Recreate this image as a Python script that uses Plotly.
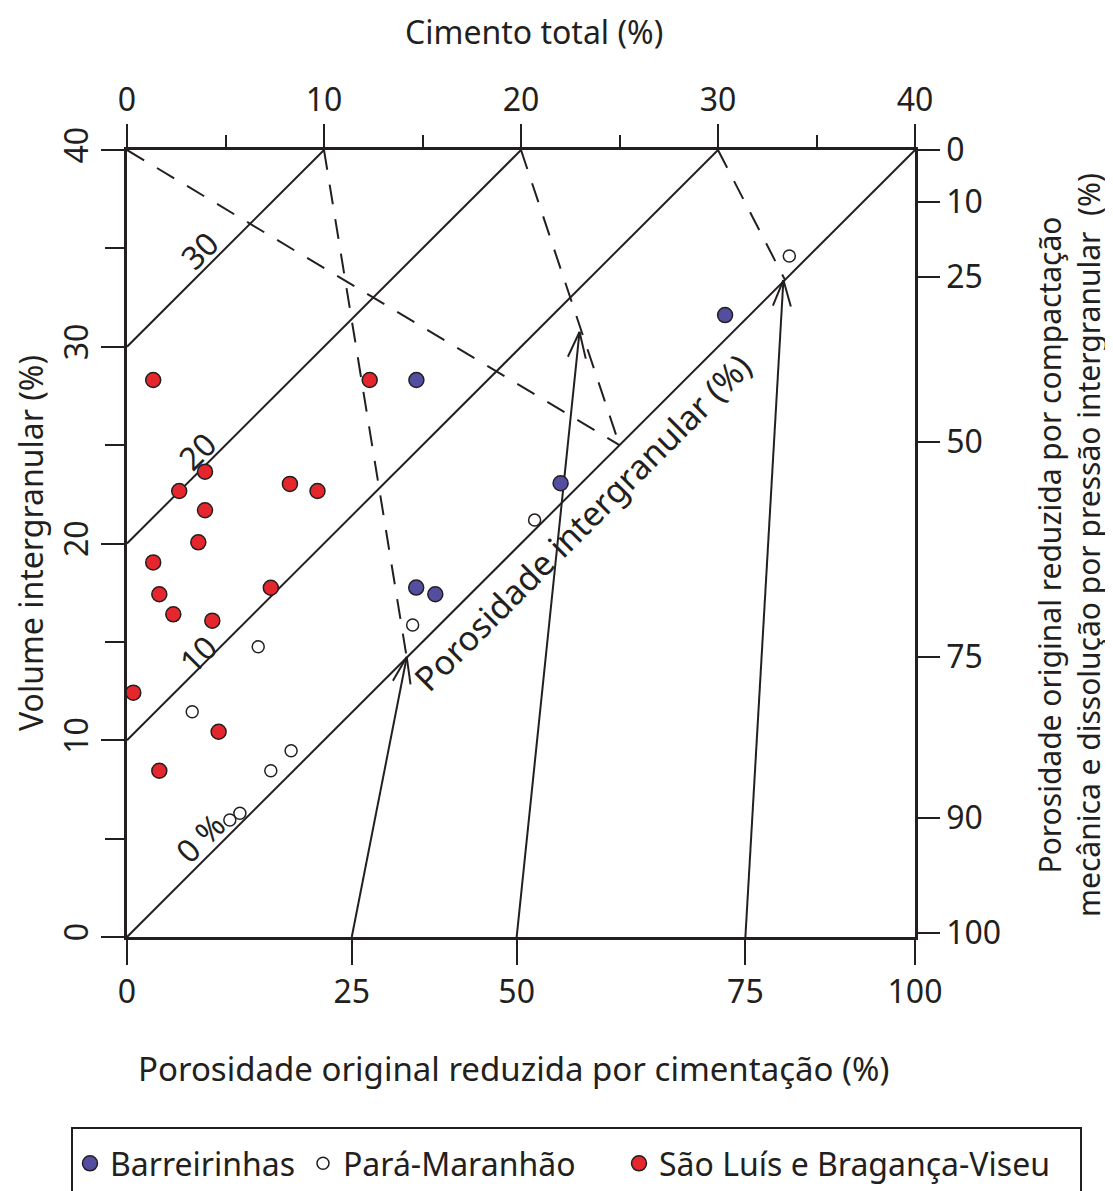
import math
import plotly.graph_objects as go

FONT = "Noto Sans"
INK = "#231f20"
BLUE = "#544ea0"
RED = "#e6262d"

# ---------------- data (cement %, intergranular volume %) ----------------
barreirinhas_cement = [14.69, 30.36, 22.01, 14.68, 15.65]
barreirinhas_igv = [28.31, 31.61, 23.06, 17.76, 17.42]

para_maranhao_cement = [33.62, 20.69, 14.50, 6.66, 3.31, 8.33, 7.30, 5.22, 5.73]
para_maranhao_igv = [34.61, 21.19, 15.86, 14.75, 11.45, 9.47, 8.45, 5.95, 6.29]

sao_luis_cement = [1.33, 12.32, 3.96, 2.65, 8.27, 9.67, 3.96, 3.62, 1.33, 1.64,
                   7.30, 2.35, 4.33, 0.32, 4.65, 1.64]
sao_luis_igv = [28.31, 28.31, 23.65, 22.67, 23.03, 22.67, 21.69, 20.06, 19.04, 17.42,
                17.75, 16.40, 16.08, 12.42, 10.43, 8.45]

series_names = ["Barreirinhas", "Pará-Maranhão", "São Luís e Bragança-Viseu"]

# ---------------- axes / tick labels ----------------
top_tick_vals = [0, 10, 20, 30, 40]
left_tick_vals = [0, 10, 20, 30, 40]
bottom_tick_labels = ["0", "25", "50", "75", "100"]
bottom_tick_cement = [0, 11.41, 19.78, 31.39, 40]
right_tick_labels = ["0", "10", "25", "50", "75", "90", "100"]
right_tick_igv = [40, 37.36, 33.55, 25.16, 14.23, 6.05, 0.2]

# ---------------- guide lines ----------------
porosity_levels = [30, 20, 10, 0]
porosity_labels = ["30", "20", "10", "0 %"]
porosity_label_cement = [3.70, 3.55, 3.60, 3.70]
porosity_label_igv = [34.92, 24.75, 14.43, 5.08]

dashed_start_cement = [0, 10, 20, 30]
dashed_start_igv = [40, 40, 40, 40]
dashed_end_cement = [25.0, 14.2, 25.0, 33.4]
dashed_end_igv = [25.0, 14.2, 25.0, 33.4]

arrow_tail_cement = [11.41, 19.78, 31.39]
arrow_tail_igv = [0, 0, 0]
arrow_tip_cement = [14.20, 22.97, 33.32]
arrow_tip_igv = [14.23, 30.76, 33.39]

# ---------------- geometry helpers (page pixels) ----------------
OFF = 8                      # default page body margin
PAGE_W, PAGE_H = 1113, 1191
PLOT_L, PLOT_R, PLOT_T, PLOT_B = 127, 915, 150, 937
W, H = PAGE_W - OFF, PAGE_H - OFF
L, T = PLOT_L - OFF, PLOT_T - OFF
R = PAGE_W - PLOT_R
B = (PAGE_H - OFF) - (PLOT_B - OFF)
PW, PH = PLOT_R - PLOT_L, PLOT_B - PLOT_T


def px(x):
    return (x - PLOT_L) / PW


def py(y):
    return (PLOT_B - y) / PH


fig = go.Figure()

# solid iso-porosity lines
sx, sy = [], []
for p in porosity_levels:
    sx += [0, 40 - p, None]
    sy += [p, 40, None]
fig.add_trace(go.Scatter(x=sx, y=sy, mode="lines", line=dict(color=INK, width=2),
                         showlegend=False, hoverinfo="skip"))

# dashed lines
dx, dy = [], []
for a, b, c, d in zip(dashed_start_cement, dashed_start_igv, dashed_end_cement, dashed_end_igv):
    dx += [a, c, None]
    dy += [b, d, None]
fig.add_trace(go.Scatter(x=dx, y=dy, mode="lines",
                         line=dict(color=INK, width=2, dash="20px,15px"),
                         showlegend=False, hoverinfo="skip"))

# arrows
ax_, ay_ = [], []
barb_len, barb_ang = 1.4, math.radians(19)
for x0, y0, x1, y1 in zip(arrow_tail_cement, arrow_tail_igv, arrow_tip_cement, arrow_tip_igv):
    ax_ += [x0, x1, None]
    ay_ += [y0, y1, None]
    ux, uy = x0 - x1, y0 - y1
    n = math.hypot(ux, uy)
    ux, uy = ux / n, uy / n
    for s in (1, -1):
        c, si = math.cos(s * barb_ang), math.sin(s * barb_ang)
        bx = ux * c - uy * si
        by = ux * si + uy * c
        ax_ += [x1 + barb_len * bx, x1, None]
        ay_ += [y1 + barb_len * by, y1, None]
fig.add_trace(go.Scatter(x=ax_, y=ay_, mode="lines", line=dict(color=INK, width=2),
                         showlegend=False, hoverinfo="skip"))

# data series (each with its own legend entry box)
fig.add_trace(go.Scatter(x=barreirinhas_cement, y=barreirinhas_igv, mode="markers",
                         name=series_names[0], cliponaxis=False, legend="legend",
                         marker=dict(size=15, color=BLUE, line=dict(color=INK, width=1.5))))
fig.add_trace(go.Scatter(x=para_maranhao_cement, y=para_maranhao_igv, mode="markers",
                         name=series_names[1], cliponaxis=False, legend="legend2",
                         marker=dict(size=12, color="white", line=dict(color=INK, width=1.5))))
fig.add_trace(go.Scatter(x=sao_luis_cement, y=sao_luis_igv, mode="markers",
                         name=series_names[2], cliponaxis=False, legend="legend3",
                         marker=dict(size=15, color=RED, line=dict(color=INK, width=1.5))))

# invisible anchor for the secondary axes
fig.add_trace(go.Scatter(x=[0], y=[0], xaxis="x2", yaxis="y2", mode="markers",
                         marker=dict(opacity=0), showlegend=False, hoverinfo="skip"))

tickfont = dict(family=FONT, size=32, color=INK)
common = dict(range=[0, 40], showgrid=False, zeroline=False, showline=True,
              linecolor=INK, linewidth=2.5, ticks="outside", tickcolor=INK,
              tickwidth=2, tickfont=tickfont, automargin=False)


def legend_at(xpix):
    return dict(orientation="h", x=px(xpix), xanchor="left", y=py(1136), yanchor="top",
                font=dict(family=FONT, size=32, color=INK), bgcolor="rgba(0,0,0,0)",
                borderwidth=0, itemclick=False, itemdoubleclick=False)


fig.update_layout(
    width=W, height=H,
    margin=dict(l=L, r=R, t=T, b=B, pad=0, autoexpand=False),
    paper_bgcolor="white", plot_bgcolor="white",
    font=dict(family=FONT, size=32, color=INK),
    xaxis=dict(**common, tickvals=bottom_tick_cement, ticktext=bottom_tick_labels,
               ticklen=25, side="bottom"),
    xaxis2=dict(**common, overlaying="x", side="top", tickvals=top_tick_vals,
                ticklen=23, anchor="y",
                minor=dict(dtick=5, tick0=0, ticklen=12, tickwidth=2, tickcolor=INK,
                           ticks="outside")),
    yaxis=dict(**common, tickvals=left_tick_vals, ticklen=23, tickangle=-90,
               minor=dict(dtick=5, tick0=0, ticklen=19, tickwidth=2, tickcolor=INK,
                          ticks="outside")),
    yaxis2=dict(**common, overlaying="y", side="right", anchor="x",
                tickvals=right_tick_igv, ticktext=right_tick_labels, ticklen=22),
    showlegend=True,
    legend=legend_at(70),
    legend2=legend_at(303),
    legend3=legend_at(619),
)


def ann(x, y, text, size=32, angle=0, ref="paper"):
    return dict(x=x, y=y, xref=ref, yref=ref, text=text, showarrow=False,
                textangle=angle, xanchor="center", yanchor="middle",
                font=dict(family=FONT, size=size, color=INK))


annotations = []
for txt, cx, cy in zip(porosity_labels, porosity_label_cement, porosity_label_igv):
    annotations.append(ann(cx, cy, txt, 32, -45, ref=None) | dict(xref="x", yref="y"))
annotations.append(ann(23.12, 21.09, "Porosidade intergranular (%)", 34, -45)
                   | dict(xref="x", yref="y"))
annotations.append(ann(px(534), py(31), "Cimento total (%)", 32))
annotations.append(ann(px(30), py(543), "Volume intergranular (%)", 32, -90))
annotations.append(ann(px(1069), py(545),
                       "Porosidade original reduzida por compactação<br>"
                       "mecânica e dissolução por pressão intergranular  (%)", 30, -90))
annotations.append(ann(px(513), py(1068),
                       "Porosidade original reduzida por cimentação (%)", 33))
fig.update_layout(annotations=annotations)

fig.add_shape(type="rect", xref="paper", yref="paper", x0=px(72), x1=px(1081),
              y0=py(1128), y1=py(1215), line=dict(color=INK, width=2),
              fillcolor="rgba(0,0,0,0)", layer="below")

fig.write_html("out.html")
